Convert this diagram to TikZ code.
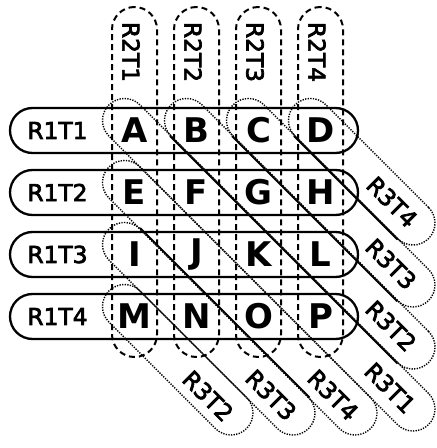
\documentclass[tikz,border=0pt]{standalone}
\usepackage{fontspec}
\setmainfont{DejaVu Sans}
\newfontfamily\labfont[FakeBold=3]{DejaVu Sans}
\usetikzlibrary{calc}
\begin{document}
\begin{tikzpicture}[x=1pt,y=1pt,
  rowpill/.style={draw, line width=2.3pt, rounded corners=22.5pt, minimum width=348pt, minimum height=45pt, inner sep=0pt},
  colpill/.style={draw, line width=2pt, dash pattern=on 6pt off 4pt, rounded corners=22.5pt, minimum width=45pt, minimum height=350pt, inner sep=0pt},
  diagpill/.style={draw, line width=1.4pt, dash pattern=on 1.3pt off 1.3pt, rounded corners=22pt, minimum height=44pt, inner sep=0pt, rotate=-45},
  lab/.style={font=\labfont\fontsize{23.3}{26}\selectfont, inner sep=0pt},
  cell/.style={font=\fontsize{34}{37}\selectfont\bfseries, inner sep=0pt},
  share/.style={line width=1.7pt}
]
\useasboundingbox (0,0) rectangle (437,448);

% rows
\node[rowpill] (r1) at (184,317.5) {};
\node[rowpill] (r2) at (184,255.5) {};
\node[rowpill] (r3) at (184,193.5) {};
\node[rowpill] (r4) at (184,131.5) {};
\node[lab] (t11) at (57.5,317.5) {R1T1};
\node[lab] (t12) at (57.5,255.5) {R1T2};
\node[lab] (t13) at (57.5,193.5) {R1T3};
\node[lab] (t14) at (57.5,131.5) {R1T4};

% columns
\node[colpill] (k1) at (134.5,266) {};
\node[colpill] (k2) at (196.5,266) {};
\node[colpill] (k3) at (258.5,266) {};
\node[colpill] (k4) at (320.5,266) {};
\node[lab, rotate=-90] (t21) at (131,396) {R2T1};
\node[lab, rotate=-90] (t22) at (193,396) {R2T2};
\node[lab, rotate=-90] (t23) at (255,396) {R2T3};
\node[lab, rotate=-90] (t24) at (317,396) {R2T4};

% diagonal pills
\node[diagpill, minimum width=452pt] (pA) at (268.75,183.25) {};
\node[diagpill, minimum width=364.3pt] (pB) at (299.75,214.25) {};
\node[diagpill, minimum width=276.6pt] (pC) at (330.75,245.25) {};
\node[diagpill, minimum width=189pt] (pD) at (361.75,276.25) {};
\node[diagpill, minimum width=370pt] (pE) at (239.75,150.25) {};
\node[diagpill, minimum width=282.3pt] (pI) at (208.75,119.25) {};
\node[diagpill, minimum width=194.6pt] (pM) at (177.75,88.25) {};

% shared solid sides
\draw[share] ($(pB.south west)!22pt!(pB.south east)$) -- ($(pB.south east)!22pt!(pB.south west)$);
\draw[share] ($(pC.south west)!22pt!(pC.south east)$) -- ($(pC.south east)!22pt!(pC.south west)$);
\draw[share] ($(pD.south west)!22pt!(pD.south east)$) -- ($(pD.south east)!22pt!(pD.south west)$);
\draw[share] ($(pI.north west)!22pt!(pI.north east)$) -- ($(pI.north east)!22pt!(pI.north west)$);

% diagonal labels
\node[lab, rotate=-45] (t3a) at (390,60) {R3T1};
\node[lab, rotate=-45] (t3b) at (391,122) {R3T2};
\node[lab, rotate=-45] (t3c) at (391,184) {R3T3};
\node[lab, rotate=-45] (t3d) at (392,246) {R3T4};
\node[lab, rotate=-45] (t3e) at (333,53) {R3T4};
\node[lab, rotate=-45] (t3i) at (271,53) {R3T3};
\node[lab, rotate=-45] (t3m) at (208,52) {R3T2};

% cells
\node[cell] (A) at (134.5,317.5) {A};
\node[cell] (B) at (196.5,317.5) {B};
\node[cell] (C) at (258.5,317.5) {C};
\node[cell] (D) at (320.5,317.5) {D};
\node[cell] (E) at (134.5,255.5) {E};
\node[cell] (F) at (196.5,255.5) {F};
\node[cell] (G) at (258.5,255.5) {G};
\node[cell] (H) at (320.5,255.5) {H};
\node[cell] (I) at (134.5,193.5) {I};
\node[cell] (J) at (196.5,193.5) {J};
\node[cell] (K) at (258.5,193.5) {K};
\node[cell] (L) at (320.5,193.5) {L};
\node[cell] (M) at (134.5,131.5) {M};
\node[cell] (N) at (196.5,131.5) {N};
\node[cell] (O) at (258.5,131.5) {O};
\node[cell] (P) at (320.5,131.5) {P};
\end{tikzpicture}
\end{document}
